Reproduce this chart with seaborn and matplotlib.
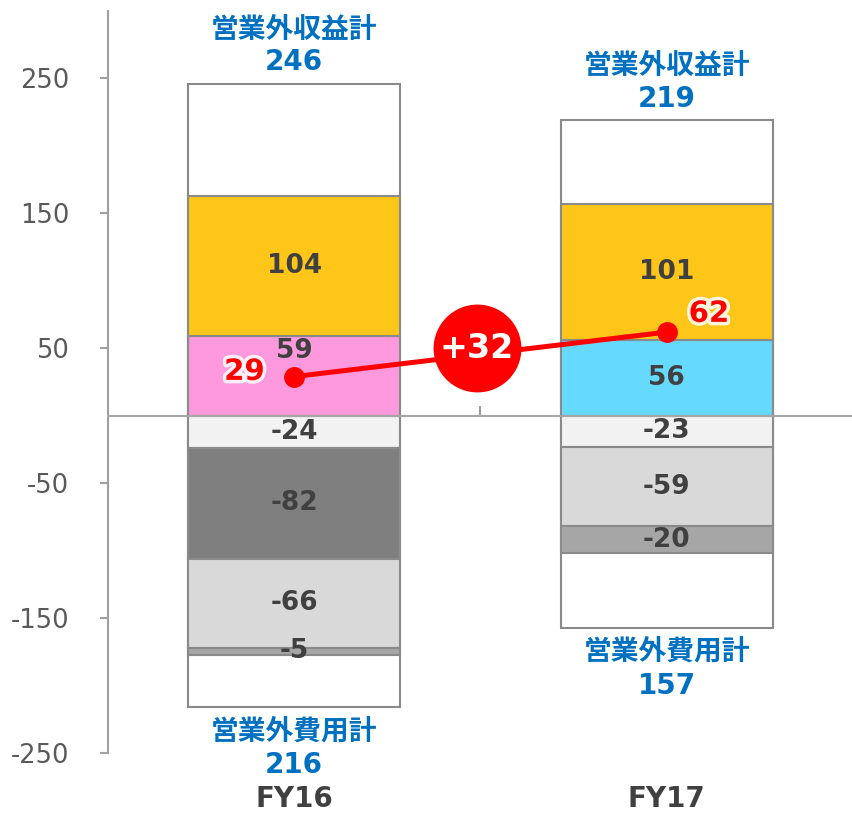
import matplotlib
matplotlib.use("Agg")
import pandas as pd
import matplotlib.pyplot as plt
import matplotlib.patheffects as pe
import seaborn as sns

# Data
categories = ['FY16', 'FY17']
income_totals = [246, 219]
expense_totals = [-216, -157]
income_label = '営業外収益計'
expense_label = '営業外費用計'

# stacked segments, listed from zero outward
fy16_pos = [59, 104]
fy17_pos = [56, 101]
fy16_neg = [-24, -82, -66, -5]
fy17_neg = [-23, -59, -20]

fy16_pos_colors = ['#FF99DD', '#FFC61A']
fy17_pos_colors = ['#66D9FF', '#FFC61A']
fy16_neg_colors = ['#F2F2F2', '#7F7F7F', '#D9D9D9', '#A6A6A6']
fy17_neg_colors = ['#F2F2F2', '#D9D9D9', '#A6A6A6']

ordinary_profit = [29, 62]
diff_text = '+32'

# Build a small table of segments
rows = []
for cat, pos, pcol, neg, ncol in [
    ('FY16', fy16_pos, fy16_pos_colors, fy16_neg, fy16_neg_colors),
    ('FY17', fy17_pos, fy17_pos_colors, fy17_neg, fy17_neg_colors),
]:
    bottom = 0
    for v, c in zip(pos, pcol):
        rows.append(dict(cat=cat, value=v, bottom=bottom, color=c))
        bottom += v
    bottom = 0
    for v, c in zip(neg, ncol):
        rows.append(dict(cat=cat, value=v, bottom=bottom, color=c))
        bottom += v
seg = pd.DataFrame(rows)

sns.set_style('white')
plt.rcParams['font.family'] = ['DejaVu Sans', 'Noto Sans CJK JP']
plt.rcParams['axes.unicode_minus'] = False

fig = plt.figure(figsize=(8.53, 8.13), dpi=100)
ax = fig.add_axes([108 / 853, 60 / 813, 1 - 108 / 853, 742 / 813])

edge = '#8A8A8A'
bar_w = 0.57
txt_dark = '#404040'
blue = '#0070C0'

# white total boxes behind the stacks
for cat, tot in zip(categories, income_totals):
    sns.barplot(x=[cat], y=[tot], order=categories, color='white', saturation=1,
                width=bar_w, edgecolor=edge, linewidth=1.5, ax=ax)
for cat, tot in zip(categories, expense_totals):
    sns.barplot(x=[cat], y=[tot], order=categories, color='white', saturation=1,
                width=bar_w, edgecolor=edge, linewidth=1.5, ax=ax)

# stacked segments
for _, r in seg.iterrows():
    sns.barplot(x=[r['cat']], y=[r['value']], order=categories, bottom=r['bottom'],
                color=r['color'], saturation=1, width=bar_w, edgecolor=edge,
                linewidth=1.5, ax=ax)
    xi = categories.index(r['cat'])
    yc = r['bottom'] + r['value'] / 2
    if r['cat'] == 'FY16' and r['value'] == 59:
        yc = 48  # pushed up to leave room for the profit marker
    ax.text(xi, yc, f"{r['value']}", ha='center', va='center', fontsize=19,
            fontweight='bold', color=txt_dark, zorder=8)

# totals labels
for xi, tot in enumerate(income_totals):
    ax.text(xi, tot + 16, f'{tot}', ha='center', va='center', fontsize=20,
            fontweight='bold', color=blue)
    ax.text(xi, tot + 40, income_label, ha='center', va='center', fontsize=20,
            fontweight='bold', color=blue)
for xi, tot in enumerate(expense_totals):
    ax.text(xi, tot - 18, expense_label, ha='center', va='center', fontsize=20,
            fontweight='bold', color=blue)
    ax.text(xi, tot - 43, f'{-tot}', ha='center', va='center', fontsize=20,
            fontweight='bold', color=blue)

# ordinary profit line
ax.plot([0, 1], ordinary_profit, color='#FF0000', lw=3.6, marker='o', ms=14,
        zorder=10, solid_capstyle='round')
glow = [pe.withStroke(linewidth=5, foreground='white', alpha=0.85)]
ax.text(-0.134, 32.5, f'{ordinary_profit[0]}', ha='center', va='center', fontsize=21,
        fontweight='bold', color='#FF0000', path_effects=glow, zorder=11)
ax.text(1.113, 75.5, f'{ordinary_profit[1]}', ha='center', va='center', fontsize=21,
        fontweight='bold', color='#FF0000', path_effects=glow, zorder=11)
ax.scatter([0.49], [50], s=4000, color='#FF0000', zorder=12, linewidths=0)
ax.text(0.49, 50, diff_text, ha='center', va='center', fontsize=24,
        fontweight='bold', color='white', zorder=13)

# category labels under the chart
for xi, cat in enumerate(categories):
    ax.text(xi, -284, cat, ha='center', va='center', fontsize=20,
            fontweight='bold', color=txt_dark, clip_on=False)

# axes styling
ax.set_xlim(-0.5, 1.5)
ax.set_ylim(-250, 300)
ax.set_xlabel('')
ax.set_ylabel('')
ax.set_yticks([-250, -150, -50, 50, 150, 250])
ax.set_xticks([0.5])
ax.set_xticklabels([''])
for s in ['top', 'right']:
    ax.spines[s].set_visible(False)
ax.spines['left'].set_color('#A0A0A0')
ax.spines['left'].set_linewidth(1.5)
ax.spines['bottom'].set_position(('data', 0))
ax.spines['bottom'].set_color('#A6A6A6')
ax.spines['bottom'].set_linewidth(1.5)
ax.spines['bottom'].set_zorder(3)
ax.tick_params(axis='y', length=6, width=1.5, color='#A0A0A0', pad=22,
               labelsize=18.5, labelcolor='#595959', left=True)
ax.tick_params(axis='x', direction='in', length=7, width=1.5, color='#A0A0A0',
               bottom=True)

fig.savefig('out.png', dpi=100)
